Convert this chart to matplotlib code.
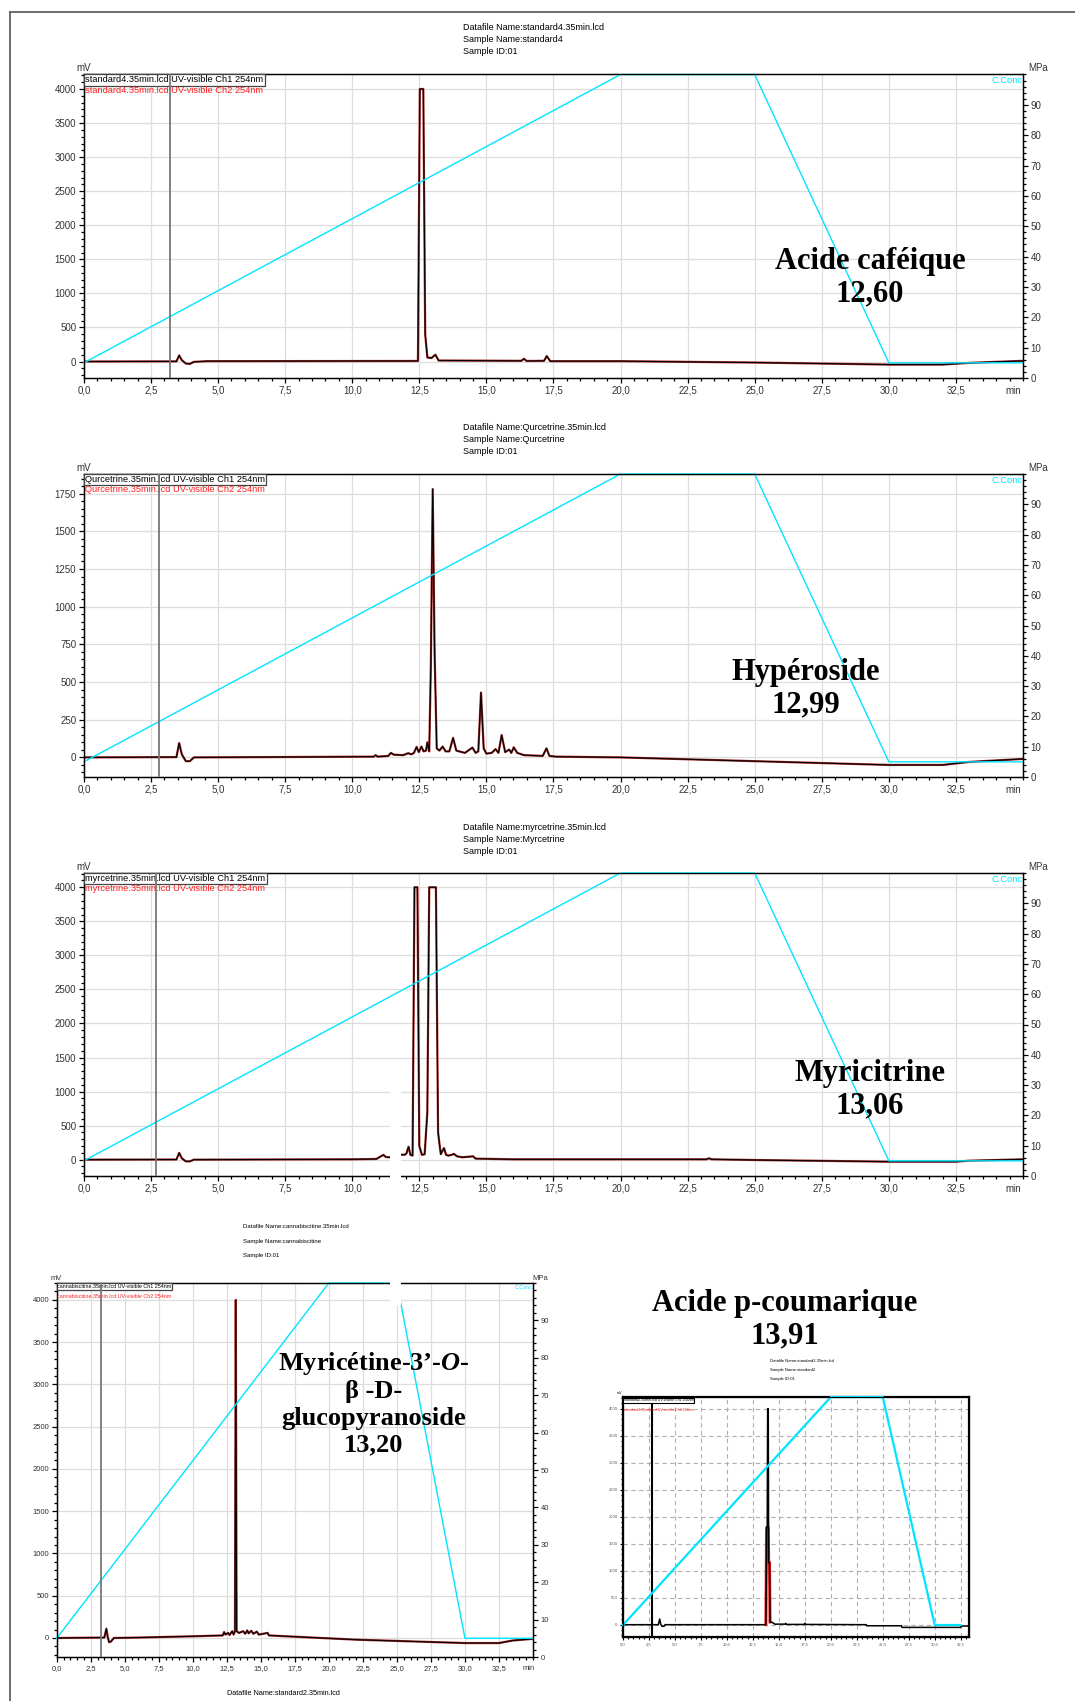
import matplotlib
matplotlib.use('Agg')
import numpy as np
import matplotlib.pyplot as plt
from matplotlib import font_manager
from matplotlib.lines import Line2D
from matplotlib.patches import Rectangle
from matplotlib.ticker import MultipleLocator, FixedLocator, FuncFormatter

# ---- data (time in min, signal in mV) ----
# solvent gradient (C.Conc, MPa axis)
grad_time = [0, 20, 25, 30, 35]
grad_mpa = [5, 100, 100, 5, 5]

# standard4 - acide cafeique
caf_time = [0, 3.45, 3.55, 3.65, 3.8, 3.95, 4.1, 4.6, 12.45, 12.52, 12.65, 12.72, 12.8,
            12.95, 13.1, 13.22, 16.3, 16.4, 16.5, 17.15, 17.25, 17.38, 20, 25, 30, 32, 33, 35]
caf_mv = [0, 2, 90, 20, -30, -35, -5, 5, 8, 4000, 4000, 400, 60,
          50, 100, 15, 10, 40, 8, 10, 80, 5, 5, -15, -45, -45, -20, 10]

# Qurcetrine - hyperoside
hyp_time = [0, 3.45, 3.55, 3.65, 3.8, 3.95, 4.1, 10.8, 10.87, 10.95, 11.35, 11.44, 11.55,
            11.9, 12.09, 12.2, 12.3, 12.4, 12.48, 12.58, 12.66, 12.75, 12.8, 12.87, 12.93,
            13.0, 13.07, 13.15, 13.25, 13.37, 13.48, 13.62, 13.76, 13.88, 14.2, 14.48, 14.6,
            14.7, 14.8, 14.9, 15.0, 15.2, 15.34, 15.45, 15.57, 15.7, 15.85, 15.93, 16.02,
            16.15, 16.4, 17.1, 17.24, 17.35, 17.6, 20, 25, 30, 32, 33, 35]
hyp_mv = [0, 2, 95, 20, -25, -25, 0, 5, 15, 5, 10, 30, 18,
          15, 28, 20, 30, 70, 35, 72, 40, 45, 100, 40, 600,
          1780, 700, 60, 45, 72, 40, 40, 130, 45, 30, 65, 30,
          40, 430, 60, 25, 30, 55, 30, 148, 35, 52, 30, 67,
          30, 15, 10, 60, 10, 5, 0, -25, -50, -50, -30, -10]

# myrcetrine - myricitrine
myr_time = [0, 3.45, 3.55, 3.65, 3.8, 3.95, 4.1, 10, 10.9, 11.16, 11.25, 11.34, 11.45,
            11.85, 11.95, 12.02, 12.1, 12.17, 12.25, 12.32, 12.43, 12.5, 12.6, 12.7, 12.8,
            12.87, 13.12, 13.2, 13.3, 13.42, 13.5, 13.58, 13.7, 13.79, 13.9, 14.1, 14.4,
            14.5, 14.6, 16, 20, 23.2, 23.3, 23.4, 25, 30, 32.5, 33, 35]
myr_mv = [0, 2, 100, 20, -25, -25, 0, 5, 10, 70, 40, 35, 35,
          75, 70, 90, 190, 70, 60, 4000, 4000, 200, 70, 80, 700,
          4000, 4000, 400, 80, 170, 70, 60, 70, 85, 50, 35, 45,
          50, 15, 5, 5, 5, 20, 5, -5, -30, -30, -15, 5]

# cannabiscitine - myricetine-3'-O-beta-D-glucopyranoside
myg_time = [0, 3.5, 3.65, 3.75, 3.85, 4.0, 4.2, 6, 10, 12.2, 12.3, 12.4, 12.6, 12.7, 12.9,
            13.0, 13.1, 13.16, 13.22, 13.4, 13.7, 13.85, 14.0, 14.1, 14.3, 14.45, 14.7,
            14.85, 15.5, 15.6, 17.5, 22, 26, 30, 32.5, 33.5, 35]
myg_mv = [0, 5, 110, 10, -50, -40, 0, 5, 20, 30, 70, 40, 60, 35, 80,
          40, 80, 4000, 80, 60, 80, 50, 90, 55, 85, 50, 75,
          40, 60, 30, 15, -20, -40, -60, -60, -30, -10]

# standard2 - acide p-coumarique
pc_time = [0, 3.4, 3.53, 3.63, 3.75, 3.95, 4.05, 13.75, 13.82, 13.88, 13.92, 13.98, 14.02,
           14.1, 14.15, 14.4, 14.6, 15.6, 15.65, 15.75, 17.45, 17.5, 17.55, 23.4, 23.45,
           26.8, 26.85, 32.5, 32.55, 33.4]
pc_mv = [0, 0, 105, 10, -30, -30, 0, 0, 1800, 1800, 4000, 4000, 1150,
         1150, 50, 40, 10, 10, 25, 5, 5, 25, 5, 0, -20,
         -20, -50, -50, -25, -25]
pc_red_time = [13.75, 13.82, 13.98, 14.02, 14.1, 14.15]
pc_red_mv = [0, 1800, 1800, 1150, 1150, 50]
pc_grad_time = [0, 20, 25, 30, 32.5]
pc_grad_mpa = [5, 100, 100, 5, 5]

# ---- figure ----
names = {f.name for f in font_manager.fontManager.ttflist}
NARROW = 'Liberation Sans Narrow' if 'Liberation Sans Narrow' in names else 'Liberation Sans'
plt.rcParams['font.family'] = ['Liberation Sans', 'DejaVu Sans']
plt.rcParams['mathtext.fontset'] = 'custom'
plt.rcParams['mathtext.it'] = 'Liberation Serif:italic:bold'

W, H = 1075, 1701
fig = plt.figure(figsize=(W / 100, H / 100), dpi=100)
CYAN = '#00e5ff'


def px_axes(l, t, r, b):
    return fig.add_axes([l / W, 1 - b / H, (r - l) / W, (b - t) / H])


def ftext(x, y, s, **kw):
    return fig.text(x / W, 1 - y / H, s, **kw)


def comma(v, pos=None):
    return f'{v:.1f}'.replace('.', ',')


def chrom_panel(box, t, mv, ylim, ystep, yminor, ytop, vline_t, name,
                font='Liberation Sans', fs=7, lfs=6.7, ltxt_dy=0.034):
    ax = px_axes(*box)
    ax.set_xlim(0, 35)
    ax.set_ylim(*ylim)
    ax.set_axisbelow(True)
    ax.grid(True, which='major', color='#dddddd', lw=0.9)
    ax.plot(t, mv, color='#a52a2a', lw=1.6)
    ax.plot(t, mv, color='black', lw=0.8)
    ax.xaxis.set_major_locator(FixedLocator(np.arange(0, 33, 2.5)))
    ax.xaxis.set_minor_locator(MultipleLocator(0.5))
    ax.xaxis.set_major_formatter(FuncFormatter(comma))
    ax.set_yticks(range(0, ytop + 1, ystep))
    ax.yaxis.set_minor_locator(MultipleLocator(yminor))
    ax.tick_params(which='both', direction='out', width=0.9, labelsize=fs,
                   labelcolor='#333', pad=2)
    ax.tick_params(which='major', length=3.5)
    ax.tick_params(which='minor', length=2)
    for lab in ax.get_xticklabels() + ax.get_yticklabels():
        lab.set_family(font)
    for s in ax.spines.values():
        s.set_linewidth(1.0)

    ax2 = ax.twinx()
    ax2.set_ylim(0, 100)
    ax2.set_yticks(range(0, 91, 10))
    ax2.yaxis.set_minor_locator(MultipleLocator(2))
    ax2.tick_params(which='both', direction='out', width=0.9, labelsize=fs,
                    labelcolor='#333', pad=2)
    ax2.tick_params(which='major', length=3.5)
    ax2.tick_params(which='minor', length=2)
    for lab in ax2.get_yticklabels():
        lab.set_family(font)
    ax2.plot(grad_time, grad_mpa, color=CYAN, lw=1.0, clip_on=False)

    ax2.text(0.0015, 0.997, f'{name}.35min.lcd UV-visible Ch1 254nm', transform=ax2.transAxes,
             ha='left', va='top', fontsize=lfs, family=font, zorder=6,
             bbox=dict(boxstyle='square,pad=0.12', fc='white', ec='#444', lw=0.9))
    ax2.text(0.0015, 0.997 - ltxt_dy, f'{name}.35min.lcd UV-visible Ch2 254nm',
             transform=ax2.transAxes, ha='left', va='top', fontsize=lfs, family=font,
             color='#ff2020', zorder=6)
    ax2.axvline(vline_t, color='#777777', lw=1.3, zorder=7)
    ax2.text(0.999, 0.995, 'C.Conc', transform=ax2.transAxes, ha='right', va='top',
             fontsize=lfs, color=CYAN, family=font)
    ax.text(0, 1.004, 'mV', transform=ax.transAxes, ha='center', va='bottom',
            fontsize=fs, color='#333', family=font)
    ax.text(1.016, 1.004, 'MPa', transform=ax.transAxes, ha='center', va='bottom',
            fontsize=fs, color='#333', family=font)
    ax.annotate('min', xy=(34.65, 0), xycoords=('data', 'axes fraction'), xytext=(0, -5.5),
                textcoords='offset points', ha='center', va='top', fontsize=fs,
                color='#333', family=font)
    return ax


def header(x, ys, lines, fs=6.5, font='Liberation Sans'):
    for y, s in zip(ys, lines):
        ftext(x, y, s, fontsize=fs, va='center', ha='left', family=font)


# three main chromatograms
header(463, [28, 40, 52], ['Datafile Name:standard4.35min.lcd', 'Sample Name:standard4', 'Sample ID:01'])
chrom_panel((83.9, 74.5, 1023, 378), caf_time, caf_mv, (-242, 4213), 500, 100, 4000, 3.2, 'standard4')

header(463, [427, 439, 451], ['Datafile Name:Qurcetrine.35min.lcd', 'Sample Name:Qurcetrine', 'Sample ID:01'])
chrom_panel((83.9, 474, 1023, 777), hyp_time, hyp_mv, (-130, 1880), 250, 50, 1750, 2.8, 'Qurcetrine')

header(463, [827, 839, 851], ['Datafile Name:myrcetrine.35min.lcd', 'Sample Name:Myrcetrine', 'Sample ID:01'])
chrom_panel((83.9, 873, 1023, 1176), myr_time, myr_mv, (-240, 4210), 500, 100, 4000, 2.67, 'myrcetrine')

# bottom-left chromatogram (narrow rendering)
header(243, [1226, 1241, 1255], ['Datafile Name:cannabiscitine.35min.lcd', 'Sample Name:cannabiscitine',
                                 'Sample ID:01'], fs=4.3, font=NARROW)
chrom_panel((56.7, 1283, 533, 1657), myg_time, myg_mv, (-225, 4200), 500, 100, 4000, 3.24,
            'cannabiscitine', font=NARROW, fs=5.5, lfs=3.9, ltxt_dy=0.026)
ftext(283, 1693, 'Datafile Name:standard2.35min.lcd', fontsize=5.2, ha='center', va='center',
      family=NARROW)

# bottom-right small chromatogram
axr = px_axes(623, 1397, 969, 1637)
axr.set_xlim(0, 33.3)
axr.set_ylim(-228, 4215)
axr.set_axisbelow(True)
axr.grid(True, which='major', color='#b0b0b0', lw=0.8, ls=(0, (4, 3)))
axr.plot(pc_red_time, pc_red_mv, color='#ff2020', lw=2.2)
axr.plot(pc_time, pc_mv, color='black', lw=1.1)
axr.axvline(2.82, color='black', lw=1.5)
axr.xaxis.set_major_locator(FixedLocator(np.arange(0, 33, 2.5)))
axr.xaxis.set_minor_locator(MultipleLocator(0.5))
axr.xaxis.set_major_formatter(FuncFormatter(comma))
axr.set_yticks(range(0, 4001, 500))
axr.yaxis.set_minor_locator(MultipleLocator(100))
axr.tick_params(which='both', direction='out', width=0.8, labelsize=3, labelcolor='#555', pad=1.5)
axr.tick_params(which='major', length=2.5)
axr.tick_params(which='minor', length=1.5)
for s in axr.spines.values():
    s.set_linewidth(1.6)
axr2 = axr.twinx()
axr2.set_ylim(0, 100)
axr2.set_yticks([])
axr2.plot(pc_grad_time, pc_grad_mpa, color=CYAN, lw=1.6, clip_on=False)
axr2.text(0.002, 0.995, 'standard2.35min.lcd UV-visible Ch1 254nm', transform=axr2.transAxes,
          ha='left', va='top', fontsize=2.6, zorder=6,
          bbox=dict(boxstyle='square,pad=0.15', fc='white', ec='black', lw=0.8))
axr2.text(0.002, 0.955, 'standard2.35min.lcd UV-visible Ch2 254nm', transform=axr2.transAxes,
          ha='left', va='top', fontsize=2.6, color='#ff2020')
axr.text(-0.01, 1.01, 'mV', transform=axr.transAxes, fontsize=2.6, ha='center', va='bottom')
header(770, [1361, 1370, 1379], ['Datafile Name:standard2.35min.lcd', 'Sample Name:standard2',
                                 'Sample ID:01'], fs=3)

# compound labels
big = dict(family='Liberation Serif', fontweight='bold', ha='center', va='center',
           multialignment='center', linespacing=1.15)
ftext(870, 278, 'Acide caféique\n12,60', fontsize=22, **big)
ftext(806, 689, 'Hypéroside\n12,99', fontsize=22, **big)
ftext(870, 1090, 'Myricitrine\n13,06', fontsize=22, **big)
ftext(785, 1320, 'Acide p-coumarique\n13,91', fontsize=22, **big)
ftext(374, 1403, 'Myricétine-3’-$\\mathit{O}$-\nβ -D-\nglucopyranoside\n13,20', fontsize=19,
      **dict(big, linespacing=1.2))

# white cut through the lower chromatograms
fig.add_artist(Rectangle((390 / W, 1 - 1305 / H), 11 / W, 230 / H, transform=fig.transFigure,
                         fc='white', ec='none', zorder=20))

# page frame (left and top edges)
for xs, ys in [([10, 10], [12, 1701]), ([10, 1075], [12, 12])]:
    fig.add_artist(Line2D([x / W for x in xs], [1 - y / H for y in ys], transform=fig.transFigure,
                          color='#555555', lw=1.2))

fig.savefig('out.png', dpi=100)
